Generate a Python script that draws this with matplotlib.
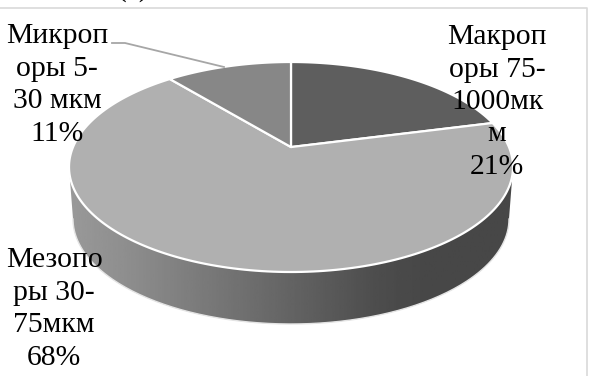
import numpy as np
import matplotlib
matplotlib.use("Agg")
import matplotlib.pyplot as plt
from matplotlib.patches import Polygon

plt.rcParams["font.family"] = ["Liberation Serif", "DejaVu Serif"]

labels = ["Макроп\nоры 75-\n1000мк\nм\n21%", "Мезопо\nры 30-\n75мкм\n68%", "Микроп\nоры 5-\n30 мкм\n11%"]
values = [21, 68, 11]
colors = ["#5e5e5e", "#b0b0b0", "#878787"]

W, H = 598, 376
CX, CY, RX, RY = 291, 167, 222, 105
K = 0.19  # how far the apex sits above the ellipse centre, perspective
DEPTH = 52


def project(t):
    # t is clockwise from 12 o'clock on the real circle
    s, c = np.sin(t), np.cos(t)
    d = 1 + K * c
    return CX + RX * np.sqrt(1 - K**2) * s / d, CY - RY * (c + K) / d


fig = plt.figure(figsize=(W / 100, H / 100), dpi=100)
ax = fig.add_axes([0, 0, 1, 1])
ax.set_xlim(0, W)
ax.set_ylim(H, 0)
ax.axis("off")

# frame
ax.plot([0, 587, 587], [7.5, 7.5, H], color="#d9d9d9", lw=1.2)
ax.text(133, -11, "(а)", fontsize=21, ha="center", va="center")

# side wall
u = np.linspace(0, np.pi, 200)
top_x, top_y = CX + RX * np.cos(u), CY + RY * np.sin(u)
low_x, low_y = CX + (RX - 4) * np.cos(u), CY + DEPTH + RY * np.sin(u)
side = Polygon(np.r_[np.c_[top_x, top_y], np.c_[low_x, low_y][::-1]], closed=True,
               fc="none", ec="none")
ax.add_patch(side)
grad = np.interp(np.linspace(0, 1, 256), [0, 0.12, 0.7, 0.8, 1], [0.60, 0.56, 0.30, 0.28, 0.28])
im = ax.imshow(grad[None, :], extent=[CX - RX, CX + RX, H, 0], cmap="gray", vmin=0, vmax=1,
               aspect="auto", zorder=1)
im.set_clip_path(side)
ax.plot(low_x, low_y, color="#e4e4e4", lw=1.0, zorder=2)

# top face
angles = np.deg2rad(np.cumsum([0] + values) * 3.6)
apex = (CX, CY - RY * K)
for a0, a1, col in zip(angles[:-1], angles[1:], colors):
    t = np.linspace(a0, a1, 200)
    px, py = project(t)
    ax.add_patch(Polygon(np.r_[[apex], np.c_[px, py]], closed=True, fc=col, ec="white",
                         lw=1.6, joinstyle="round", zorder=3))

# leader for the small slice
ax.plot([112, 125, 224], [43, 43, 67], color="#a6a6a6", lw=1.3, zorder=4)

ax.text(57, 85, labels[2], fontsize=21.3, ha="center", va="center", linespacing=1.32, zorder=5)
ax.text(497, 102, labels[0], fontsize=21.3, ha="center", va="center", linespacing=1.32, zorder=5)
ax.text(54, 309, labels[1], fontsize=21.3, ha="center", va="center", linespacing=1.32, zorder=5)

ax.set_xlim(0, W)
ax.set_ylim(H, 0)
fig.savefig("out.png", dpi=100, facecolor="white")
